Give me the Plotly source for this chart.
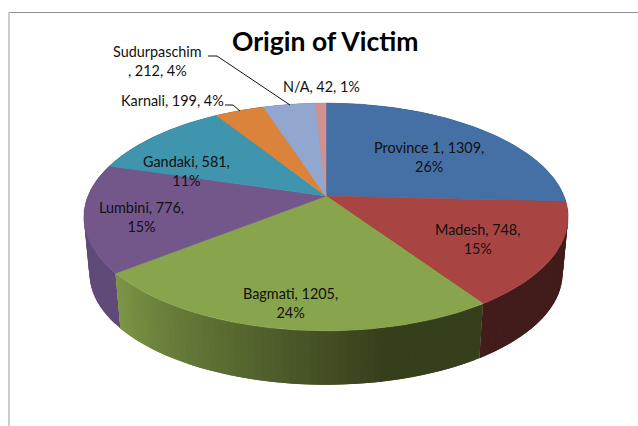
import numpy as np
import plotly.graph_objects as go

categories = ["Province 1", "Madesh", "Bagmati", "Lumbini", "Gandaki", "Karnali", "Sudurpaschim", "N/A"]
values = [1309, 748, 1205, 776, 581, 199, 212, 42]
percents = [26, 15, 24, 15, 11, 4, 4, 1]
top_colors = ["#4570a5", "#a84442", "#88a44c", "#73568a", "#3f94ae", "#db833a", "#92a7cf", "#cf9291"]
wall_left = ["#2c4a70", "#421b1b", "#7b9545", "#5f4a78", "#2a6577", "#94591f", "#62718f", "#8c6262"]
wall_right = ["#2c4a70", "#421b1b", "#363f1c", "#5f4a78", "#2a6577", "#94591f", "#62718f", "#8c6262"]

CX, CY, R, H, P = 326.0, 196.0, 238.0, 110.0, 0.1842
BOTTOM_CY, BOTTOM_SCALE = 253.0, 0.977


def project(theta, scale=1.0, cy=CY):
    k = 1.0 / (1.0 + P * np.sin(theta))
    return CX + scale * R * np.cos(theta) * k, cy - scale * H * np.sin(theta) * k


fractions = np.cumsum([0] + values) / sum(values)
angles = np.pi / 2 - 2 * np.pi * fractions


def hex_mix(a, b, t):
    ca = [int(a[i:i + 2], 16) for i in (1, 3, 5)]
    cb = [int(b[i:i + 2], 16) for i in (1, 3, 5)]
    return "rgb(%d,%d,%d)" % tuple(round(x + (y - x) * t) for x, y in zip(ca, cb))


fig = go.Figure()


def poly(xs, ys, color, name, width=0.6):
    fig.add_trace(go.Scatter(x=xs, y=ys, mode="lines", fill="toself", fillcolor=color,
                             line=dict(color=color, width=width), name=name,
                             hoverinfo="skip", showlegend=False))


# side walls, back to front; ruled strips so the outline follows the extrusion
for i in [7, 6, 5, 0, 4, 3, 1, 2]:
    a0, a1 = angles[i], angles[i + 1]
    strips = 60 if i == 2 else 24
    edges = np.linspace(a0, a1, strips + 1)
    for j in range(strips):
        # each strip overlaps the next one so that no seam shows
        end = edges[min(j + 2, strips)]
        t = np.linspace(edges[j], end, 6)
        x1, y1 = project(t)
        x2, y2 = project(t, BOTTOM_SCALE, BOTTOM_CY)
        mix = (strips - 1 - j) / max(strips - 1, 1)
        mix = min(mix * 1.35, 1.0)
        poly(np.r_[x1, x2[::-1], x1[0]], np.r_[y1, y2[::-1], y1[0]],
             hex_mix(wall_left[i], wall_right[i], mix), categories[i] + " side", width=0)

# top faces
for i, cat in enumerate(categories):
    t = np.linspace(angles[i], angles[i + 1], 90)
    x, y = project(t)
    poly(np.r_[CX, x, CX], np.r_[CY, y, CY], top_colors[i], cat)

# leader lines
leader_x = [[208, 217, 290], [225, 233, 240]]
leader_y = [[56, 56, 105], [105, 105, 111]]
for lx, ly in zip(leader_x, leader_y):
    fig.add_trace(go.Scatter(x=lx, y=ly, mode="lines", line=dict(color="#111111", width=1),
                             hoverinfo="skip", showlegend=False))

label_x = [429, 477, 290, 141, 186, 172, 157, 321]
label_y = [157, 239, 303, 217, 171, 100, 61, 86]
label_breaks = [
    "{c}, {v},<br>{p}%", "{c}, {v},<br>{p}%", "{c}, {v},<br>{p}%", "{c}, {v},<br>{p}%",
    "{c}, {v},<br>{p}%", "{c}, {v}, {p}%", "{c}<br>, {v}, {p}%", "{c}, {v}, {p}%",
]
for i, cat in enumerate(categories):
    fig.add_annotation(x=label_x[i], y=label_y[i], showarrow=False, align="center",
                       text=label_breaks[i].format(c=cat, v=values[i], p=percents[i]),
                       font=dict(family="Lato", size=14.4, color="#111111"))

fig.add_annotation(x=325, y=41, showarrow=False, text="<b>Origin of Victim</b>",
                   font=dict(family="Lato", size=26.5, color="#000000"))

# chart frame
fig.add_shape(type="line", x0=9, x1=638, y0=12.5, y1=12.5, line=dict(color="#8f8f8f", width=1))
fig.add_shape(type="line", x0=9, x1=9, y0=12, y1=426, line=dict(color="#bdbdbd", width=1.5))

fig.update_layout(
    width=638, height=426, margin=dict(l=0, r=0, t=0, b=0),
    paper_bgcolor="white", plot_bgcolor="white", showlegend=False,
    xaxis=dict(range=[0, 638], visible=False, fixedrange=True),
    yaxis=dict(range=[426, 0], visible=False, fixedrange=True),
)
fig.write_html("out.html", config={"displayModeBar": False},
               post_script="document.body.style.margin='0';document.body.style.overflow='hidden';")
